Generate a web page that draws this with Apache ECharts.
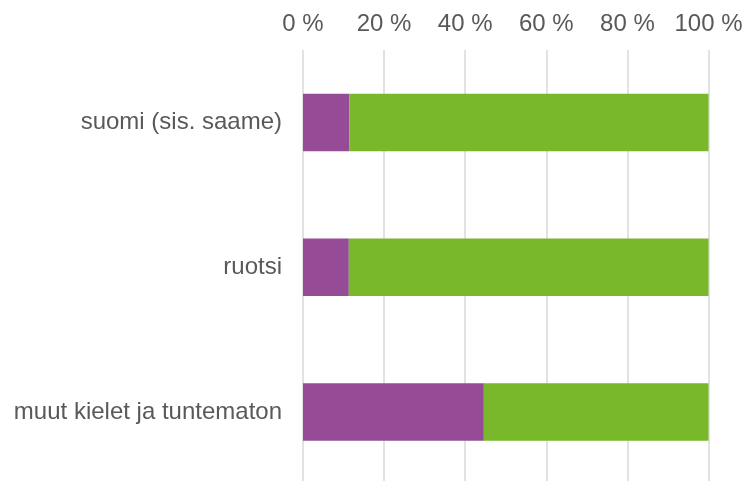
<!DOCTYPE html>
<html>
<head>
<meta charset="utf-8">
<script src="https://cdn.jsdelivr.net/npm/echarts@6/dist/echarts.min.js"></script>
<style>html,body{margin:0;padding:0;background:#fff}#c{width:745px;height:481px}</style>
</head>
<body>
<div id="c"></div>
<script>
const categories = ['suomi (sis. saame)', 'ruotsi', 'muut kielet ja tuntematon'];
const purpleValues = [11.4, 11.3, 44.6];
const greenValues = [88.6, 88.7, 55.4];
const tickValues = [0, 20, 40, 60, 80, 100];

const chart = echarts.init(document.getElementById('c'), null, {renderer: 'canvas'});
chart.setOption({
  animation: false,
  backgroundColor: '#ffffff',
  grid: {left: 303, width: 405.5, top: 50, height: 434.5, containLabel: false, outerBoundsMode: 'none'},
  xAxis: {
    type: 'value', position: 'top', min: 0, max: 100, interval: 20,
    axisLine: {show: false}, axisTick: {show: false},
    splitLine: {show: true, lineStyle: {color: '#d9d9d9', width: 1.5}},
    axisLabel: {
      margin: 14, color: '#595959', fontSize: 24, fontFamily: 'Liberation Sans, Arial, sans-serif',
      formatter: v => tickValues.includes(v) ? v + ' %' : ''
    }
  },
  yAxis: {
    type: 'category', data: categories, inverse: true,
    axisLine: {show: false}, axisTick: {show: false}, splitLine: {show: false},
    axisLabel: {margin: 21, color: '#595959', fontSize: 24, fontFamily: 'Liberation Sans, Arial, sans-serif'}
  },
  series: [
    {type: 'bar', stack: 's', data: purpleValues, barWidth: '39.7%', itemStyle: {color: '#954B96'}},
    {type: 'bar', stack: 's', data: greenValues, barWidth: '39.7%', itemStyle: {color: '#78B82A'}}
  ]
});
</script>
</body>
</html>
